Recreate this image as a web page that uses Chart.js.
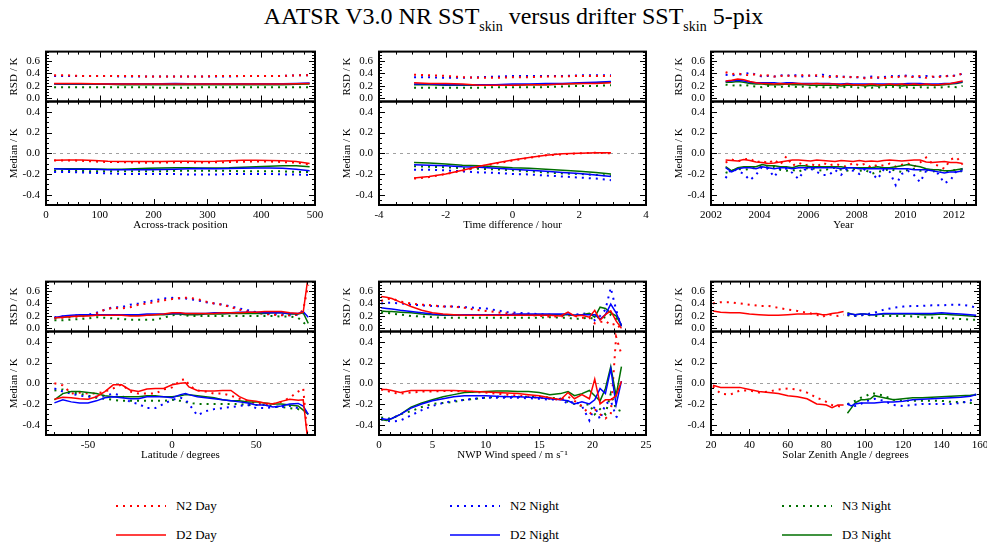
<!DOCTYPE html>
<html><head><meta charset="utf-8">
<script src="https://cdn.jsdelivr.net/npm/chart.js@4"></script>
<style>
html,body{margin:0;padding:0;background:#fff;}
#page{position:relative;width:987px;height:544px;overflow:hidden;font-family:'Liberation Serif','Times New Roman',serif;color:#000;}
#title{position:absolute;left:40px;top:2px;width:947px;text-align:center;font-size:24px;line-height:28px;white-space:nowrap;}
#title sub{font-size:14px;vertical-align:-7px;line-height:0;}
canvas{position:absolute;}
.leg{position:absolute;height:16px;font-size:13px;line-height:16px;white-space:nowrap;}
.leg svg{position:absolute;left:0;top:6px;}
.leg span{position:absolute;left:60px;top:0;}
</style></head>
<body><div id="page">
<div id="title">AATSR V3.0 NR SST<sub>skin</sub> versus drifter SST<sub>skin</sub> 5-pix</div>
</div>
<script>
// ---------------- DATA ----------------
const seriesNames = ['N2 Day','N2 Night','N3 Night','D2 Day','D2 Night','D3 Night'];

// Across-track position
const acrossX = [15,40,65,90,115,140,165,190,215,240,265,290,315,340,365,390,415,440,465,490];
const acrossRsdN2Day   = [0.37,0.37,0.36,0.36,0.36,0.36,0.36,0.35,0.35,0.35,0.35,0.35,0.36,0.36,0.36,0.36,0.36,0.36,0.37,0.37];
const acrossRsdN2Night = [0.36,0.36,0.36,0.36,0.36,0.35,0.35,0.35,0.35,0.35,0.35,0.35,0.35,0.35,0.36,0.36,0.36,0.36,0.37,0.37];
const acrossRsdN3Night = [0.18,0.18,0.18,0.18,0.18,0.18,0.18,0.18,0.17,0.17,0.17,0.18,0.18,0.18,0.18,0.18,0.18,0.18,0.18,0.18];
const acrossRsdD2Day   = [0.24,0.24,0.24,0.235,0.23,0.23,0.23,0.23,0.23,0.23,0.23,0.23,0.23,0.23,0.23,0.23,0.23,0.23,0.235,0.24];
const acrossRsdD2Night = [0.235,0.235,0.235,0.235,0.235,0.235,0.235,0.235,0.235,0.24,0.235,0.235,0.235,0.235,0.235,0.235,0.235,0.235,0.24,0.245];
const acrossRsdD3Night = [0.23,0.225,0.225,0.225,0.225,0.22,0.22,0.22,0.22,0.22,0.22,0.22,0.22,0.22,0.22,0.22,0.22,0.22,0.225,0.23];
const acrossMedN2Day   = [-0.07,-0.07,-0.072,-0.08,-0.085,-0.085,-0.09,-0.092,-0.09,-0.088,-0.088,-0.09,-0.088,-0.085,-0.082,-0.08,-0.08,-0.085,-0.09,-0.11];
const acrossMedN2Night = [-0.18,-0.18,-0.185,-0.19,-0.195,-0.2,-0.2,-0.2,-0.2,-0.2,-0.205,-0.205,-0.205,-0.2,-0.2,-0.2,-0.2,-0.205,-0.205,-0.21];
const acrossMedN3Night = [-0.17,-0.17,-0.17,-0.175,-0.175,-0.175,-0.175,-0.175,-0.175,-0.17,-0.17,-0.17,-0.17,-0.17,-0.175,-0.175,-0.175,-0.175,-0.18,-0.18];
const acrossMedD2Day   = [-0.068,-0.065,-0.065,-0.07,-0.078,-0.08,-0.08,-0.08,-0.08,-0.078,-0.078,-0.08,-0.078,-0.072,-0.068,-0.068,-0.07,-0.072,-0.08,-0.1];
const acrossMedD2Night = [-0.15,-0.155,-0.155,-0.155,-0.16,-0.16,-0.16,-0.16,-0.158,-0.155,-0.15,-0.148,-0.15,-0.148,-0.145,-0.142,-0.142,-0.145,-0.155,-0.17];
const acrossMedD3Night = [-0.15,-0.15,-0.15,-0.152,-0.155,-0.155,-0.15,-0.145,-0.142,-0.14,-0.14,-0.142,-0.142,-0.14,-0.135,-0.13,-0.125,-0.12,-0.12,-0.13];

// Time difference
const timeX = [-2.95,-2.5,-2,-1.5,-1,-0.5,0,0.5,1,1.5,2,2.5,2.95];
const timeRsdN2Day   = [0.38,0.37,0.36,0.34,0.33,0.33,0.34,0.34,0.35,0.35,0.36,0.36,0.36];
const timeRsdN2Night = [0.34,0.34,0.33,0.33,0.34,0.35,0.36,0.36,0.36,0.36,0.37,0.37,0.37];
const timeRsdN3Night = [0.17,0.17,0.17,0.17,0.17,0.18,0.18,0.18,0.18,0.19,0.2,0.2,0.21];
const timeRsdD2Day   = [0.25,0.24,0.24,0.23,0.21,0.21,0.21,0.22,0.22,0.23,0.24,0.24,0.25];
const timeRsdD2Night = [0.23,0.23,0.22,0.22,0.22,0.22,0.23,0.23,0.24,0.24,0.25,0.26,0.27];
const timeRsdD3Night = [0.22,0.22,0.21,0.21,0.21,0.21,0.21,0.22,0.22,0.23,0.24,0.25,0.26];
const timeMedN2Day   = [-0.245,-0.23,-0.2,-0.17,-0.13,-0.1,-0.07,-0.045,-0.02,-0.01,0.0,0.005,0.0];
const timeMedN2Night = [-0.16,-0.16,-0.165,-0.175,-0.185,-0.19,-0.2,-0.205,-0.215,-0.225,-0.235,-0.245,-0.26];
const timeMedN3Night = [-0.125,-0.13,-0.135,-0.145,-0.15,-0.155,-0.165,-0.175,-0.185,-0.195,-0.2,-0.21,-0.215];
const timeMedD2Day   = [-0.24,-0.225,-0.2,-0.165,-0.125,-0.095,-0.065,-0.04,-0.02,-0.005,0.0,0.005,0.005];
const timeMedD2Night = [-0.11,-0.115,-0.12,-0.13,-0.135,-0.145,-0.155,-0.165,-0.175,-0.185,-0.195,-0.21,-0.225];
const timeMedD3Night = [-0.09,-0.095,-0.105,-0.115,-0.12,-0.13,-0.14,-0.145,-0.155,-0.165,-0.175,-0.185,-0.2];

// Year
const yearX = [2002.6,2002.85,2003.1,2003.35,2003.6,2003.85,2004.1,2004.35,2004.6,2004.85,2005.1,2005.35,2005.6,2005.85,2006.1,2006.35,2006.6,2006.85,2007.1,2007.35,2007.6,2007.85,2008.1,2008.35,2008.6,2008.85,2009.1,2009.35,2009.6,2009.85,2010.1,2010.35,2010.6,2010.85,2011.1,2011.35,2011.6,2011.85,2012.1,2012.35];
const yearRsdN2Day   = [0.42,0.39,0.4,0.38,0.37,0.39,0.36,0.37,0.35,0.36,0.37,0.35,0.36,0.38,0.36,0.37,0.35,0.34,0.36,0.35,0.33,0.35,0.34,0.32,0.33,0.34,0.32,0.35,0.33,0.36,0.35,0.34,0.36,0.33,0.35,0.34,0.36,0.35,0.37,0.4];
const yearRsdN2Night = [0.38,0.37,0.38,0.39,0.41,0.38,0.35,0.36,0.35,0.37,0.36,0.38,0.36,0.35,0.37,0.36,0.38,0.36,0.35,0.34,0.36,0.33,0.34,0.33,0.35,0.33,0.34,0.36,0.35,0.37,0.36,0.35,0.34,0.36,0.34,0.36,0.35,0.37,0.36,0.4];
const yearRsdN3Night = [0.22,0.21,0.2,0.22,0.2,0.19,0.18,0.2,0.19,0.18,0.2,0.19,0.18,0.19,0.17,0.19,0.18,0.17,0.18,0.17,0.19,0.18,0.17,0.18,0.17,0.18,0.17,0.19,0.18,0.17,0.18,0.17,0.18,0.17,0.18,0.17,0.18,0.19,0.18,0.2];
const yearRsdD2Day   = [0.28,0.29,0.31,0.3,0.27,0.25,0.24,0.24,0.23,0.24,0.23,0.24,0.24,0.23,0.23,0.24,0.23,0.23,0.23,0.22,0.23,0.22,0.22,0.22,0.23,0.22,0.22,0.23,0.22,0.23,0.22,0.23,0.22,0.23,0.22,0.22,0.23,0.24,0.26,0.28];
const yearRsdD2Night = [0.27,0.28,0.29,0.28,0.26,0.25,0.25,0.25,0.25,0.24,0.25,0.25,0.24,0.24,0.24,0.24,0.24,0.24,0.23,0.23,0.24,0.23,0.23,0.23,0.23,0.23,0.23,0.23,0.23,0.23,0.24,0.24,0.24,0.23,0.23,0.23,0.24,0.24,0.25,0.27];
const yearRsdD3Night = [0.26,0.26,0.27,0.26,0.24,0.23,0.23,0.22,0.22,0.22,0.23,0.22,0.22,0.22,0.21,0.21,0.21,0.21,0.21,0.2,0.21,0.21,0.21,0.2,0.21,0.2,0.21,0.21,0.21,0.2,0.21,0.21,0.21,0.22,0.21,0.21,0.22,0.23,0.24,0.26];
const yearMedN2Day   = [-0.09,-0.06,-0.08,-0.06,-0.05,-0.09,-0.07,-0.1,-0.06,-0.11,-0.03,-0.12,-0.09,-0.12,-0.1,-0.13,-0.09,-0.12,-0.1,-0.12,-0.13,-0.09,-0.12,-0.1,-0.14,-0.11,-0.12,-0.1,-0.13,-0.11,-0.1,-0.13,-0.09,-0.04,-0.1,-0.12,-0.15,-0.06,-0.04,-0.11];
const yearMedN2Night = [-0.24,-0.15,-0.17,-0.2,-0.26,-0.21,-0.13,-0.15,-0.23,-0.14,-0.15,-0.19,-0.25,-0.16,-0.15,-0.18,-0.21,-0.21,-0.16,-0.21,-0.15,-0.17,-0.2,-0.15,-0.19,-0.25,-0.16,-0.18,-0.31,-0.2,-0.17,-0.21,-0.28,-0.17,-0.16,-0.2,-0.29,-0.26,-0.17,-0.15];
const yearMedN3Night = [-0.19,-0.17,-0.15,-0.16,-0.15,-0.14,-0.12,-0.14,-0.13,-0.16,-0.17,-0.16,-0.18,-0.15,-0.14,-0.16,-0.17,-0.15,-0.14,-0.16,-0.17,-0.15,-0.17,-0.16,-0.2,-0.18,-0.17,-0.15,-0.17,-0.18,-0.16,-0.15,-0.17,-0.16,-0.18,-0.16,-0.18,-0.17,-0.16,-0.18];
const yearMedD2Day   = [-0.065,-0.07,-0.075,-0.06,-0.07,-0.085,-0.09,-0.1,-0.095,-0.085,-0.075,-0.065,-0.065,-0.07,-0.075,-0.065,-0.07,-0.075,-0.08,-0.07,-0.075,-0.08,-0.07,-0.08,-0.075,-0.08,-0.07,-0.065,-0.07,-0.075,-0.07,-0.065,-0.065,-0.085,-0.09,-0.085,-0.08,-0.09,-0.09,-0.1];
const yearMedD2Night = [-0.14,-0.18,-0.15,-0.14,-0.14,-0.15,-0.13,-0.14,-0.15,-0.14,-0.14,-0.15,-0.14,-0.14,-0.14,-0.14,-0.14,-0.14,-0.14,-0.15,-0.14,-0.14,-0.15,-0.15,-0.15,-0.15,-0.15,-0.15,-0.15,-0.15,-0.15,-0.16,-0.16,-0.16,-0.17,-0.18,-0.19,-0.18,-0.18,-0.17];
const yearMedD3Night = [-0.13,-0.17,-0.14,-0.13,-0.13,-0.13,-0.11,-0.12,-0.12,-0.13,-0.13,-0.14,-0.12,-0.12,-0.13,-0.13,-0.13,-0.13,-0.13,-0.13,-0.14,-0.14,-0.14,-0.14,-0.14,-0.13,-0.14,-0.14,-0.13,-0.12,-0.11,-0.12,-0.13,-0.15,-0.16,-0.16,-0.17,-0.17,-0.16,-0.15];

// Latitude
const latX = [-70,-65,-60,-55,-50,-45,-40,-35,-30,-25,-20,-15,-10,-5,0,5,8,10,15,20,25,30,35,40,45,50,55,60,65,70,75,78,81];
const latRsdN2Day   = [0.16,0.17,0.18,0.19,0.2,0.24,0.3,0.33,0.32,0.34,0.38,0.4,0.42,0.45,0.47,0.49,0.49,0.49,0.47,0.43,0.4,0.38,0.34,0.3,0.27,0.25,0.23,0.22,0.21,0.21,0.22,0.3,0.7];
const latRsdN2Night = [0.18,0.19,0.2,0.21,0.22,0.25,0.3,0.34,0.34,0.38,0.4,0.43,0.45,0.48,0.49,0.48,0.48,0.47,0.45,0.42,0.4,0.38,0.35,0.32,0.29,0.26,0.24,0.23,0.22,0.21,0.22,0.24,0.3];
const latRsdN3Night = [0.13,0.13,0.14,0.15,0.16,0.18,0.17,0.16,0.15,0.14,0.14,0.14,0.14,0.17,0.21,0.22,0.21,0.2,0.2,0.2,0.2,0.2,0.2,0.2,0.2,0.2,0.2,0.2,0.19,0.19,0.17,0.1,0.02];
const latRsdD2Day   = [0.17,0.18,0.19,0.2,0.2,0.21,0.21,0.21,0.21,0.2,0.2,0.21,0.22,0.23,0.25,0.25,0.24,0.24,0.24,0.24,0.24,0.25,0.25,0.25,0.26,0.26,0.27,0.27,0.27,0.25,0.24,0.26,0.85];
const latRsdD2Night = [0.17,0.2,0.21,0.22,0.22,0.22,0.22,0.22,0.22,0.22,0.22,0.23,0.23,0.23,0.24,0.24,0.24,0.24,0.24,0.24,0.25,0.25,0.25,0.26,0.26,0.26,0.25,0.25,0.25,0.24,0.24,0.27,0.18];
const latRsdD3Night = [0.17,0.18,0.19,0.2,0.21,0.21,0.21,0.21,0.21,0.21,0.21,0.21,0.22,0.22,0.23,0.23,0.22,0.22,0.22,0.23,0.23,0.23,0.24,0.24,0.24,0.24,0.24,0.25,0.25,0.23,0.23,0.25,0.08];
const latMedN2Day   = [0.0,-0.02,-0.1,-0.09,-0.1,-0.1,-0.08,-0.05,-0.01,-0.08,-0.1,-0.1,-0.1,-0.06,-0.04,0.03,0.04,-0.02,-0.07,-0.08,-0.1,-0.1,-0.12,-0.15,-0.17,-0.2,-0.2,-0.2,-0.18,-0.14,-0.08,-0.05,-0.6];
const latMedN2Night = [-0.05,-0.08,-0.1,-0.12,-0.13,-0.13,-0.12,-0.1,-0.12,-0.18,-0.2,-0.24,-0.24,-0.2,-0.16,-0.14,-0.16,-0.2,-0.31,-0.27,-0.25,-0.24,-0.23,-0.22,-0.21,-0.24,-0.24,-0.23,-0.23,-0.22,-0.24,null,null];
const latMedN3Night = [-0.07,-0.06,-0.09,-0.1,-0.12,-0.14,-0.15,-0.16,-0.17,-0.17,-0.17,-0.17,-0.17,-0.17,-0.16,-0.17,-0.18,-0.19,-0.2,-0.2,-0.2,-0.2,-0.2,-0.2,-0.21,-0.21,-0.21,-0.22,-0.23,-0.24,-0.25,-0.27,null];
const latMedD2Day   = [-0.155,-0.135,-0.14,-0.15,-0.155,-0.13,-0.08,-0.015,-0.015,-0.065,-0.08,-0.055,-0.05,-0.05,-0.015,0.0,0.005,-0.035,-0.07,-0.075,-0.075,-0.07,-0.07,-0.13,-0.165,-0.175,-0.19,-0.2,-0.175,-0.155,-0.165,-0.16,-0.6];
const latMedD2Night = [-0.19,-0.16,-0.18,-0.19,-0.19,-0.17,-0.14,-0.13,-0.14,-0.15,-0.15,-0.13,-0.13,-0.13,-0.14,-0.11,-0.1,-0.11,-0.13,-0.14,-0.15,-0.16,-0.17,-0.18,-0.19,-0.21,-0.21,-0.23,-0.22,-0.2,-0.195,-0.22,-0.3];
const latMedD3Night = [-0.16,-0.1,-0.08,-0.08,-0.09,-0.1,-0.12,-0.13,-0.13,-0.13,-0.13,-0.12,-0.12,-0.13,-0.13,-0.12,-0.11,-0.11,-0.12,-0.13,-0.14,-0.16,-0.17,-0.17,-0.18,-0.18,-0.19,-0.2,-0.2,-0.21,-0.22,-0.26,-0.3];

// NWP wind speed
const windX = [0.2,0.7,1.2,2,3,4,5,6,7,8,9,10,11,12,13,14,15,16,17,17.7,18.3,19,19.7,20.2,20.7,21.2,21.7,22.2,22.7];
const windRsdN2Day   = [0.44,0.47,0.48,0.43,0.4,0.38,0.37,0.35,0.35,0.33,0.3,0.28,0.26,0.24,0.23,0.22,0.2,0.19,0.19,0.21,0.2,0.17,0.17,0.08,0.1,0.12,0.05,0.08,-0.02];
const windRsdN2Night = [0.4,0.41,0.41,0.4,0.38,0.37,0.36,0.35,0.35,0.34,0.33,0.32,0.29,0.26,0.25,0.24,0.23,0.22,0.21,0.22,0.22,0.23,0.25,0.13,0.2,0.3,0.65,0.3,0.02];
const windRsdN3Night = [0.25,0.25,0.24,0.22,0.2,0.19,0.18,0.17,0.17,0.17,0.17,0.17,0.17,0.17,0.17,0.17,0.17,0.18,0.17,0.17,0.15,0.16,0.17,0.15,0.2,0.17,0.22,0.15,0.05];
const windRsdD2Day   = [0.51,0.5,0.48,0.42,0.35,0.29,0.25,0.23,0.22,0.21,0.21,0.21,0.21,0.21,0.21,0.21,0.21,0.21,0.2,0.26,0.2,0.21,0.18,0.29,0.13,0.22,0.28,0.12,0.0];
const windRsdD2Night = [0.33,0.32,0.31,0.29,0.27,0.25,0.23,0.22,0.22,0.22,0.22,0.22,0.22,0.22,0.23,0.23,0.23,0.23,0.23,0.23,0.21,0.22,0.22,0.22,0.15,0.22,0.39,0.25,0.05];
const windRsdD3Night = [0.28,0.27,0.27,0.26,0.25,0.23,0.22,0.21,0.21,0.21,0.21,0.21,0.21,0.21,0.22,0.22,0.22,0.22,0.22,0.22,0.21,0.22,0.24,0.18,0.34,0.32,0.25,0.2,0.05];
const windMedN2Day   = [-0.06,-0.07,-0.09,-0.1,-0.09,-0.08,-0.08,-0.075,-0.075,-0.08,-0.085,-0.09,-0.1,-0.11,-0.12,-0.13,-0.14,-0.15,-0.16,-0.13,-0.17,-0.22,-0.3,-0.25,-0.3,-0.34,-0.3,0.45,0.28];
const windMedN2Night = [-0.35,-0.36,-0.37,-0.36,-0.31,-0.26,-0.22,-0.19,-0.17,-0.16,-0.15,-0.14,-0.14,-0.14,-0.14,-0.145,-0.15,-0.16,-0.15,-0.2,-0.17,-0.22,-0.36,-0.22,-0.35,-0.2,-0.17,-0.32,-0.36];
const windMedN3Night = [-0.33,-0.34,-0.34,-0.3,-0.27,-0.23,-0.2,-0.19,-0.18,-0.16,-0.15,-0.14,-0.13,-0.13,-0.13,-0.13,-0.13,-0.14,-0.15,-0.18,-0.2,-0.22,-0.2,-0.3,-0.25,-0.3,-0.1,-0.25,-0.27];
const windMedD2Day   = [-0.06,-0.06,-0.07,-0.09,-0.07,-0.07,-0.07,-0.07,-0.07,-0.075,-0.08,-0.085,-0.09,-0.095,-0.1,-0.11,-0.12,-0.14,-0.16,-0.09,-0.15,-0.11,-0.15,0.04,-0.2,-0.16,-0.16,-0.12,0.02];
const windMedD2Night = [-0.34,-0.35,-0.34,-0.3,-0.24,-0.2,-0.17,-0.15,-0.13,-0.12,-0.12,-0.12,-0.125,-0.13,-0.13,-0.135,-0.14,-0.15,-0.16,-0.17,-0.2,-0.18,-0.2,-0.16,-0.05,-0.1,0.14,-0.21,0.02];
const windMedD3Night = [-0.35,-0.36,-0.34,-0.3,-0.23,-0.19,-0.16,-0.13,-0.11,-0.09,-0.085,-0.08,-0.075,-0.075,-0.08,-0.08,-0.09,-0.11,-0.1,-0.08,-0.12,-0.1,-0.07,-0.12,-0.17,-0.05,0.16,-0.12,0.16];

// Solar zenith angle (day and night bins)
const zenDayX = [21,25,30,35,40,45,50,55,60,65,70,75,78,80,83,86,89];
const zenRsdN2Day = [0.4,0.42,0.42,0.4,0.38,0.36,0.36,0.33,0.3,0.28,0.25,0.22,0.18,0.22,0.22,0.2,0.22];
const zenRsdD2Day = [0.28,0.26,0.25,0.25,0.23,0.22,0.21,0.21,0.22,0.23,0.23,0.24,0.22,0.22,0.24,0.25,0.27];
const zenMedN2Day = [-0.03,-0.1,-0.11,-0.07,-0.07,-0.09,-0.08,-0.06,-0.05,-0.06,-0.09,-0.14,-0.16,-0.18,-0.21,-0.22,-0.23];
const zenMedD2Day = [-0.02,-0.04,-0.04,-0.04,-0.06,-0.08,-0.09,-0.1,-0.12,-0.13,-0.15,-0.2,-0.205,-0.21,-0.235,-0.21,-0.21];
const zenNightX = [91,93,95,98,100,103,105,110,115,120,125,130,135,140,145,150,155,158];
const zenRsdN2Night = [0.22,0.21,0.2,0.21,0.22,0.24,0.25,0.3,0.33,0.35,0.36,0.36,0.37,0.37,0.38,0.38,0.36,0.33];
const zenRsdN3Night = [0.21,0.2,0.2,0.21,0.22,0.21,0.2,0.2,0.2,0.2,0.19,0.18,0.17,0.17,0.16,0.15,0.14,0.14];
const zenRsdD2Night = [0.24,0.23,0.22,0.23,0.23,0.22,0.22,0.24,0.24,0.24,0.24,0.24,0.24,0.25,0.24,0.23,0.22,0.21];
const zenRsdD3Night = [0.25,0.23,0.22,0.23,0.23,0.22,0.22,0.23,0.23,0.23,0.23,0.22,0.22,0.23,0.22,0.21,0.2,0.19];
const zenMedN2Night = [-0.2,-0.21,-0.22,-0.2,-0.18,-0.16,-0.15,-0.17,-0.21,-0.22,-0.21,-0.2,-0.2,-0.2,-0.2,-0.19,-0.17,-0.1];
const zenMedN3Night = [-0.2,-0.19,-0.17,-0.14,-0.13,-0.1,-0.1,-0.12,-0.16,-0.17,-0.17,-0.17,-0.17,-0.17,-0.18,-0.18,-0.19,-0.19];
const zenMedD2Night = [-0.2,-0.22,-0.2,-0.19,-0.19,-0.19,-0.19,-0.18,-0.18,-0.175,-0.16,-0.155,-0.15,-0.145,-0.14,-0.135,-0.125,-0.11];
const zenMedD3Night = [-0.29,-0.24,-0.19,-0.16,-0.16,-0.15,-0.12,-0.14,-0.16,-0.15,-0.14,-0.14,-0.135,-0.13,-0.125,-0.12,-0.115,-0.11];

// Tick labels
const rsdTicks = [0, 0.2, 0.4, 0.6];
const medTicks = [-0.4, -0.2, 0, 0.2, 0.4];
const acrossTicks = [0,100,200,300,400,500];
const timeTicks = [-4,-2,0,2,4];
const yearTicks = [2002,2004,2006,2008,2010,2012];
const latTicks = [-50,0,50];
const windTicks = [0,5,10,15,20,25];
const zenTicks = [20,40,60,80,100,120,140,160];

// ---------------- STYLES ----------------
const RED = '#ff0000', BLUE = '#0000ff', GREEN = '#006f00';
const styles = {
  'N2 Day':   {color: RED,   dash: [2,5]},
  'N2 Night': {color: BLUE,  dash: [2,5]},
  'N3 Night': {color: GREEN, dash: [2,5]},
  'D2 Day':   {color: RED,   dash: []},
  'D2 Night': {color: BLUE,  dash: []},
  'D3 Night': {color: GREEN, dash: []}
};

const panels = [
  {left:46, right:315, top:39, bottom:205, xMin:0, xMax:500, xTicks:acrossTicks, xMajor:100, xMinor:20, xTitle:'Across-track position',
   series:[['D2 Day',acrossX,acrossRsdD2Day,acrossMedD2Day],['D2 Night',acrossX,acrossRsdD2Night,acrossMedD2Night],['D3 Night',acrossX,acrossRsdD3Night,acrossMedD3Night],
           ['N2 Day',acrossX,acrossRsdN2Day,acrossMedN2Day],['N2 Night',acrossX,acrossRsdN2Night,acrossMedN2Night],['N3 Night',acrossX,acrossRsdN3Night,acrossMedN3Night]]},
  {left:379, right:646, top:39, bottom:205, xMin:-4, xMax:4, xTicks:timeTicks, xMajor:2, xMinor:0.5, xTitle:'Time difference / hour',
   series:[['D2 Day',timeX,timeRsdD2Day,timeMedD2Day],['D2 Night',timeX,timeRsdD2Night,timeMedD2Night],['D3 Night',timeX,timeRsdD3Night,timeMedD3Night],
           ['N2 Day',timeX,timeRsdN2Day,timeMedN2Day],['N2 Night',timeX,timeRsdN2Night,timeMedN2Night],['N3 Night',timeX,timeRsdN3Night,timeMedN3Night]]},
  {left:711, right:976, top:39, bottom:205, xMin:2002, xMax:2012.9, xTicks:yearTicks, xMajor:2, xMinor:0.5, xTitle:'Year',
   series:[['D2 Day',yearX,yearRsdD2Day,yearMedD2Day],['D2 Night',yearX,yearRsdD2Night,yearMedD2Night],['D3 Night',yearX,yearRsdD3Night,yearMedD3Night],
           ['N2 Day',yearX,yearRsdN2Day,yearMedN2Day],['N2 Night',yearX,yearRsdN2Night,yearMedN2Night],['N3 Night',yearX,yearRsdN3Night,yearMedN3Night]]},
  {left:46, right:315, top:269, bottom:435, xMin:-75, xMax:85, xTicks:latTicks, xMajor:50, xMinor:10, xTitle:'Latitude / degrees',
   series:[['D2 Day',latX,latRsdD2Day,latMedD2Day],['D2 Night',latX,latRsdD2Night,latMedD2Night],['D3 Night',latX,latRsdD3Night,latMedD3Night],
           ['N2 Day',latX,latRsdN2Day,latMedN2Day],['N2 Night',latX,latRsdN2Night,latMedN2Night],['N3 Night',latX,latRsdN3Night,latMedN3Night]]},
  {left:379, right:646, top:269, bottom:435, xMin:0, xMax:25, xTicks:windTicks, xMajor:5, xMinor:1, xTitle:'NWP Wind speed / m s\u207B\u00B9',
   series:[['D2 Day',windX,windRsdD2Day,windMedD2Day],['D2 Night',windX,windRsdD2Night,windMedD2Night],['D3 Night',windX,windRsdD3Night,windMedD3Night],
           ['N2 Day',windX,windRsdN2Day,windMedN2Day],['N2 Night',windX,windRsdN2Night,windMedN2Night],['N3 Night',windX,windRsdN3Night,windMedN3Night]]},
  {left:711, right:980, top:269, bottom:435, xMin:20, xMax:160, xTicks:zenTicks, xMajor:20, xMinor:5, xTitle:'Solar Zenith Angle / degrees',
   series:[['D2 Day',zenDayX,zenRsdD2Day,zenMedD2Day],['D2 Night',zenNightX,zenRsdD2Night,zenMedD2Night],['D3 Night',zenNightX,zenRsdD3Night,zenMedD3Night],
           ['N2 Day',zenDayX,zenRsdN2Day,zenMedN2Day],['N2 Night',zenNightX,zenRsdN2Night,zenMedN2Night],['N3 Night',zenNightX,zenRsdN3Night,zenMedN3Night]]}
];

// ---------------- PLUGIN: IDL-style frame + inward ticks ----------------
function stepValues(min, max, step) {
  const out = [];
  const k0 = Math.ceil(min / step - 1e-9), k1 = Math.floor(max / step + 1e-9);
  for (let k = k0; k <= k1; k++) out.push(+(k * step).toFixed(6));
  return out;
}
function isMajor(v, major) { const r = v / major; return Math.abs(r - Math.round(r)) < 1e-6; }

const idlPlugin = {
  id: 'idl',
  beforeDatasetsDraw(chart) {
    const {ctx} = chart; const x = chart.scales.x, yM = chart.scales.yM;
    const y0 = Math.round(yM.getPixelForValue(0)) + 0.5;
    ctx.save(); ctx.strokeStyle = '#a0a0a0'; ctx.lineWidth = 1; ctx.setLineDash([3, 4]);
    ctx.beginPath(); ctx.moveTo(x.left, y0); ctx.lineTo(x.right, y0); ctx.stroke(); ctx.restore();
  },
  afterDraw(chart) {
    const {ctx} = chart; const x = chart.scales.x; const o = chart.options.plugins.idl;
    ctx.save(); ctx.strokeStyle = '#000'; ctx.setLineDash([]);
    const l = x.left, r = x.right;
    for (const ys of [chart.scales.yR, chart.scales.yM]) {
      const t = ys.top, b = ys.bottom;
      ctx.lineWidth = 1; ctx.beginPath();
      for (const v of stepValues(x.min, x.max, o.xMinor)) {
        const px = Math.round(x.getPixelForValue(v)) + 0.5; const len = isMajor(v, o.xMajor) ? 6 : 3;
        ctx.moveTo(px, b); ctx.lineTo(px, b - len); ctx.moveTo(px, t); ctx.lineTo(px, t + len);
      }
      for (const v of stepValues(ys.min, ys.max, 0.05)) {
        const py = Math.round(ys.getPixelForValue(v)) + 0.5; const len = isMajor(v, 0.2) ? 6 : 3;
        ctx.moveTo(l, py); ctx.lineTo(l + len, py); ctx.moveTo(r, py); ctx.lineTo(r - len, py);
      }
      ctx.stroke();
      ctx.lineWidth = 2; ctx.strokeRect(l, t, r - l, b - t);
    }
    ctx.restore();
  }
};

// ---------------- BUILD ----------------
const page = document.getElementById('page');
const FONT = {family: "'Liberation Serif','Times New Roman',serif", size: 11};
const YW = 46, PR = 16, XH = 35;

panels.forEach((p) => {
  const c = document.createElement('canvas');
  const w = (p.right - p.left) + YW + PR, h = (p.bottom - p.top) + XH;
  c.width = w; c.height = h;
  c.style.left = (p.left - YW) + 'px'; c.style.top = p.top + 'px';
  c.style.width = w + 'px'; c.style.height = h + 'px';
  page.appendChild(c);

  const datasets = [];
  p.series.forEach(([name, xs, rsd, med]) => {
    const st = styles[name];
    const common = {label: name, borderColor: st.color, backgroundColor: st.color, borderWidth: st.dash.length ? 2 : 1.5,
      borderDash: st.dash, pointRadius: 0, tension: 0, fill: false, spanGaps: false};
    datasets.push(Object.assign({}, common, {yAxisID: 'yR', data: xs.map((xv, i) => ({x: xv, y: rsd[i]}))}));
    datasets.push(Object.assign({}, common, {yAxisID: 'yM', data: xs.map((xv, i) => ({x: xv, y: med[i]}))}));
  });

  const yBase = (title, min, max, ticks, weight) => ({
    type: 'linear', position: 'left', stack: 'v', stackWeight: weight, min, max,
    grid: {display: false, drawTicks: false}, border: {display: false},
    ticks: {font: FONT, color: '#000', padding: 6, autoSkip: false, callback: v => v.toFixed(1)},
    afterBuildTicks: s => { s.ticks = ticks.map(v => ({value: v})); },
    afterFit: s => { s.width = YW; },
    title: {display: true, text: title, font: FONT, color: '#000', padding: {top: 8, bottom: 0}}
  });

  new Chart(c, {
    type: 'line',
    data: {datasets},
    options: {
      responsive: false, animation: false, devicePixelRatio: 1,
      layout: {padding: {left: 0, right: PR, top: 0, bottom: 0}, autoPadding: false},
      plugins: {legend: {display: false}, tooltip: {enabled: false}, idl: {xMajor: p.xMajor, xMinor: p.xMinor}},
      scales: {
        x: {type: 'linear', position: 'bottom', min: p.xMin, max: p.xMax,
            grid: {display: false, drawTicks: false}, border: {display: false},
            ticks: {font: FONT, color: '#000', padding: 4, maxRotation: 0, autoSkip: false, callback: v => String(v)},
            afterBuildTicks: s => { s.ticks = p.xTicks.map(v => ({value: v})); },
            afterFit: s => { s.height = XH; },
            title: {display: true, text: p.xTitle, font: FONT, color: '#000', padding: {top: 0, bottom: 8}}},
        yM: yBase('Median / K', -0.5, 0.5, medTicks, 112),
        yR: yBase('RSD / K', -0.05, 0.75, rsdTicks, 54)
      }
    },
    plugins: [idlPlugin]
  });
});

// ---------------- LEGEND ----------------
const legendItems = [
  ['N2 Day', 116, 498], ['N2 Night', 450, 498], ['N3 Night', 782, 498],
  ['D2 Day', 116, 527], ['D2 Night', 450, 527], ['D3 Night', 782, 527]
];
legendItems.forEach(([name, lx, ly]) => {
  const st = styles[name];
  const d = document.createElement('div');
  d.className = 'leg'; d.style.left = lx + 'px'; d.style.top = ly + 'px';
  const dash = st.dash.length ? `stroke-dasharray="${st.dash.join(' ')}"` : '';
  d.innerHTML = `<svg width="52" height="4"><line x1="0" y1="2" x2="50" y2="2" stroke="${st.color}" stroke-width="${st.dash.length ? 2 : 1.5}" ${dash}/></svg><span>${name}</span>`;
  page.appendChild(d);
});
</script>
</body></html>
